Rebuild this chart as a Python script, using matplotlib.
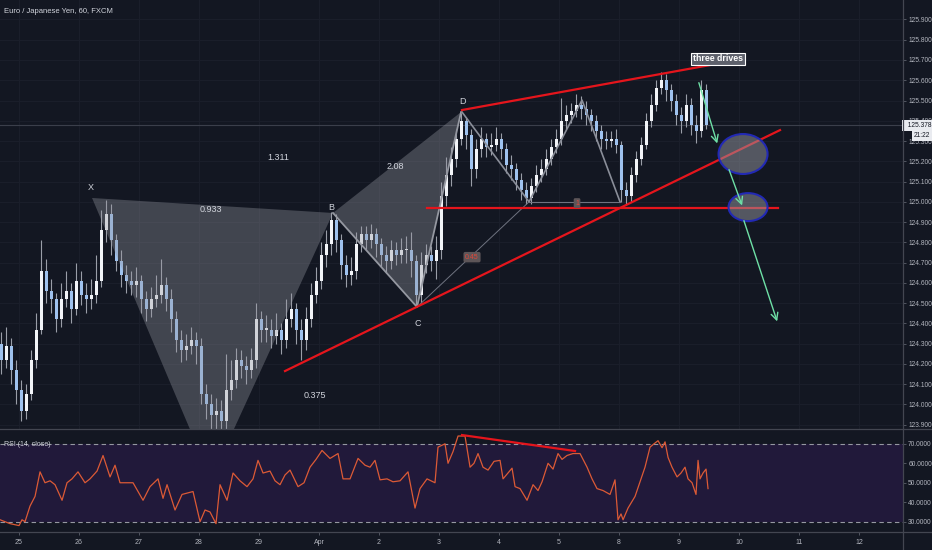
import numpy as np
import matplotlib
matplotlib.use("Agg")
import matplotlib.pyplot as plt
from matplotlib.patches import Polygon, Ellipse
from matplotlib.lines import Line2D
from matplotlib.transforms import blended_transform_factory

plt.rcParams['font.family'] = ['Liberation Sans', 'DejaVu Sans']

# ---- price data: 2-hour bars, EUR/JPY ----
first_open = 124.30
closes = [124.22, 124.29, 124.17, 124.07, 123.97, 124.05, 124.22, 124.37, 124.66, 124.56,
          124.52, 124.42, 124.52, 124.56, 124.47, 124.61, 124.54, 124.52, 124.54, 124.61,
          124.86, 124.94, 124.81, 124.71, 124.64, 124.61, 124.59, 124.61, 124.52, 124.47,
          124.52, 124.54, 124.59, 124.52, 124.42, 124.32, 124.27, 124.29, 124.32, 124.29,
          124.05, 124.00, 123.95, 123.97, 123.92, 124.07, 124.12, 124.22, 124.19, 124.17,
          124.22, 124.42, 124.37, 124.37, 124.34, 124.37, 124.32, 124.42, 124.47, 124.37,
          124.32, 124.42, 124.54, 124.61, 124.74, 124.79, 124.91, 124.81, 124.69, 124.64,
          124.66, 124.79, 124.84, 124.81, 124.84, 124.79, 124.74, 124.71, 124.76, 124.74,
          124.76, 124.76, 124.71, 124.54, 124.69, 124.74, 124.71, 124.76, 125.03, 125.13,
          125.21, 125.31, 125.40, 125.33, 125.16, 125.26, 125.31, 125.27, 125.28, 125.31,
          125.26, 125.18, 125.16, 125.11, 125.06, 125.02, 125.08, 125.13, 125.16, 125.21,
          125.27, 125.31, 125.40, 125.43, 125.45, 125.48, 125.46, 125.43, 125.40, 125.35,
          125.31, 125.30, 125.31, 125.28, 125.06, 125.03, 125.13, 125.21, 125.28, 125.40,
          125.48, 125.56, 125.60, 125.55, 125.50, 125.43, 125.40, 125.48, 125.38, 125.35,
          125.55, 125.378]
highs = [124.36, 124.38, 124.33, 124.22, 124.12, 124.10, 124.27, 124.45, 124.81, 124.72,
         124.62, 124.55, 124.60, 124.66, 124.60, 124.70, 124.66, 124.60, 124.62, 124.74,
         124.96, 125.01, 124.99, 124.84, 124.76, 124.69, 124.66, 124.68, 124.64, 124.56,
         124.58, 124.64, 124.72, 124.63, 124.57, 124.46, 124.37, 124.35, 124.38, 124.36,
         124.33, 124.10, 124.05, 124.03, 124.02, 124.25, 124.22, 124.28, 124.27, 124.24,
         124.28, 124.50, 124.46, 124.44, 124.42, 124.45, 124.40, 124.52, 124.55, 124.50,
         124.42, 124.48, 124.60, 124.68, 124.80, 124.86, 124.95, 124.94, 124.84, 124.74,
         124.73, 124.85, 124.88, 124.88, 124.89, 124.87, 124.82, 124.78, 124.81, 124.80,
         124.82, 124.83, 124.85, 124.74, 124.75, 124.79, 124.78, 124.83, 125.10, 125.22,
         125.27, 125.36, 125.44, 125.42, 125.36, 125.31, 125.37, 125.34, 125.34, 125.37,
         125.34, 125.29, 125.23, 125.19, 125.14, 125.10, 125.12, 125.18, 125.21, 125.26,
         125.31, 125.36, 125.51, 125.48, 125.49, 125.53, 125.52, 125.50, 125.46, 125.43,
         125.38, 125.35, 125.35, 125.36, 125.30, 125.10, 125.17, 125.25, 125.32, 125.44,
         125.53, 125.60, 125.64, 125.63, 125.58, 125.53, 125.47, 125.53, 125.51, 125.43,
         125.60, 125.58]
lows = [124.15, 124.18, 124.10, 124.00, 123.92, 123.93, 124.02, 124.18, 124.35, 124.50,
        124.45, 124.36, 124.38, 124.48, 124.40, 124.44, 124.49, 124.45, 124.47, 124.50,
        124.58, 124.80, 124.74, 124.66, 124.58, 124.55, 124.54, 124.53, 124.45, 124.41,
        124.43, 124.48, 124.50, 124.46, 124.36, 124.26, 124.21, 124.22, 124.25, 124.20,
        124.00, 123.93, 123.86, 123.88, 123.85, 123.86, 124.02, 124.08, 124.13, 124.10,
        124.13, 124.18, 124.31, 124.31, 124.28, 124.30, 124.25, 124.28, 124.38, 124.30,
        124.22, 124.27, 124.38, 124.50, 124.57, 124.68, 124.74, 124.75, 124.62, 124.58,
        124.59, 124.62, 124.75, 124.76, 124.77, 124.73, 124.68, 124.65, 124.67, 124.69,
        124.70, 124.70, 124.63, 124.48, 124.50, 124.65, 124.66, 124.62, 124.72, 124.98,
        125.08, 125.17, 125.28, 125.26, 125.08, 125.12, 125.22, 125.22, 125.23, 125.25,
        125.21, 125.14, 125.11, 125.06, 125.01, 124.99, 124.99, 125.05, 125.10, 125.13,
        125.18, 125.24, 125.28, 125.36, 125.39, 125.42, 125.41, 125.38, 125.35, 125.30,
        125.26, 125.26, 125.27, 125.24, 125.00, 124.99, 125.00, 125.10, 125.18, 125.26,
        125.37, 125.45, 125.53, 125.50, 125.45, 125.38, 125.34, 125.37, 125.33, 125.29,
        125.32, 125.36]
last_price = 125.378

# ---- RSI(14, close) (time in trading days, 25 Mar = 0) ----
rsi_t = [-0.317, -0.233, -0.15, 0.0, 0.05, 0.1, 0.183, 0.267, 0.35, 0.433, 0.517, 0.6, 0.717,
         0.8, 0.883, 0.983, 1.1, 1.183, 1.3, 1.4, 1.517, 1.6, 1.683, 1.9, 2.067, 2.183, 2.317,
         2.4, 2.467, 2.6, 2.717, 2.9, 3.017, 3.1, 3.183, 3.283, 3.35, 3.467, 3.567, 3.683, 3.8,
         3.9, 3.983, 4.067, 4.183, 4.267, 4.35, 4.433, 4.517, 4.65, 4.75, 4.85, 4.95, 5.05,
         5.183, 5.317, 5.4, 5.517, 5.65, 5.767, 5.85, 5.933, 6.017, 6.133, 6.233, 6.35, 6.483,
         6.6, 6.683, 6.8, 6.933, 6.983, 7.1, 7.15, 7.233, 7.317, 7.433, 7.517, 7.583, 7.65,
         7.733, 7.817, 7.917, 8.017, 8.067, 8.15, 8.217, 8.267, 8.35, 8.467, 8.567, 8.65,
         8.717, 8.817, 8.9, 8.983, 9.05, 9.133, 9.233, 9.35, 9.467, 9.55, 9.633, 9.733, 9.85,
         9.933, 9.983, 10.033, 10.067, 10.15, 10.267, 10.35, 10.433, 10.517, 10.583, 10.65,
         10.717, 10.767, 10.817, 10.883, 10.967, 11.033, 11.1, 11.15, 11.217, 11.283, 11.317,
         11.35, 11.4, 11.45, 11.483]
rsi_v = [31, 30, 29, 28, 31, 30, 38, 43, 55.6, 50, 51, 49, 41,
         50, 52, 55.6, 50, 52, 56, 64, 53, 59, 50, 50, 41, 48, 52,
         42, 49, 36, 44, 45.5, 30, 36, 35, 29, 49, 41, 55, 51, 48,
         52, 61.5, 55, 56, 51, 49, 54, 56.5, 48, 50, 58, 62, 66.6,
         62.5, 65, 52, 52, 62.5, 59, 58, 61.5, 51.5, 52, 50.5, 51, 55.6,
         37, 47, 52, 50, 68.3, 70, 60, 66, 74, 74, 58, 60, 65,
         58, 56.5, 61, 61.5, 52, 55, 57.5, 48, 47, 41, 49, 46,
         50.5, 60, 57, 65, 62, 64, 65, 65, 58, 52, 47, 46, 44,
         51.5, 31, 34, 31, 37, 43, 50.5, 58, 68.3, 70, 71.6,
         68, 71, 63, 58, 53, 55, 58, 52, 50, 44, 61.5,
         52, 55, 57, 47]

# ---- axis labels ----
day_labels = ['25', '26', '27', '28', '29', 'Apr', '2', '3', '4', '5', '8', '9', '10', '11', '12']
price_ticks = [123.9, 124.0, 124.1, 124.2, 124.3, 124.4, 124.5, 124.6, 124.7, 124.8,
               124.9, 125.0, 125.1, 125.2, 125.3, 125.4, 125.5, 125.6, 125.7, 125.8, 125.9]
rsi_ticks = [30, 40, 50, 60, 70]

# ---- drawings (time in days, price) ----
pt_X = (1.217, 125.019)
pt_A = (3.2, 123.632)
pt_B = (5.233, 124.945)
pt_C = (6.633, 124.481)
pt_D = (7.367, 125.443)
ratio_labels = [('0.933', 3.2, 124.964), ('1.311', 4.317, 125.221),
                ('2.08', 6.267, 125.172), ('0.375', 4.933, 124.046)]
point_labels = [('X', 1.2, 125.073), ('B', 5.2, 124.974), ('C', 6.65, 124.402), ('D', 7.383, 125.493)]
zigzag_t = [7.383, 8.5, 9.383, 10.017]
zigzag_p = [125.443, 125.00, 125.502, 125.00]
upper_trend = ([7.383, 11.517], [125.453, 125.675])
lower_trend = ([4.433, 12.683], [124.165, 125.354])
support = ([6.8, 12.65], [124.969, 124.969])
rsi_div = ([7.383, 9.267], [74.5, 66.3])
ellipses = [(12.067, 125.236, 0.817, 0.197), (12.15, 124.974, 0.65, 0.138)]
arrows = [((11.317, 125.601), (11.65, 125.275)),
          ((11.817, 125.172), (12.067, 124.969)),
          ((12.067, 124.920), (12.65, 124.397))]

BG = '#131722'
TXT = '#b2b5be'
GRID = '#1b1f2b'
RED = '#e5151c'
SEP = '#434651'
FS = 4.8

fig = plt.figure(figsize=(9.32, 5.5), dpi=100, facecolor=BG)
ax = fig.add_axes([0, 0.22, 0.9689, 0.78], facecolor=BG)
ax2 = fig.add_axes([0, 0.0327, 0.9689, 0.1855], facecolor=BG, sharex=ax)

xmin, xmax = -0.317, 14.733
n = len(closes)
t = -0.30 + np.arange(n) / 12.0
opens = np.array([first_open] + closes[:-1])
c = np.array(closes)
h = np.array(highs)
l = np.array(lows)
up = c >= opens

# grid
for d in range(15):
    ax.axvline(d, color=GRID, lw=0.7, zorder=0)
for p in price_ticks:
    ax.axhline(p, color=GRID, lw=0.7, zorder=0)

# candles
ax.vlines(t, l, h, color='#9a9ea8', lw=0.8, zorder=2)
body_lo = np.minimum(opens, c)
body_h = np.maximum(np.abs(c - opens), 0.006)
ax.bar(t[up], body_h[up], bottom=body_lo[up], width=0.05, color='#f2f4f8', lw=0, zorder=3)
ax.bar(t[~up], body_h[~up], bottom=body_lo[~up], width=0.05, color='#9fc2ee', lw=0, zorder=3)

# last price line
ax.axhline(last_price, color='#3b3f4b', lw=0.8, zorder=1)

# XABCD pattern
fill_col = (149 / 255, 152 / 255, 161 / 255, 0.36)
ax.add_patch(Polygon([pt_X, pt_A, pt_B], closed=True, facecolor=fill_col, edgecolor='none', zorder=4))
ax.add_patch(Polygon([pt_B, pt_C, pt_D], closed=True, facecolor=fill_col, edgecolor='none', zorder=4))
ax.plot([pt_B[0], pt_C[0], pt_D[0]], [pt_B[1], pt_C[1], pt_D[1]], color='#9598a1', lw=1.3, zorder=5)
for s, x, y in ratio_labels + point_labels:
    ax.text(x, y, s, color='#d1d4dc', fontsize=6.5, ha='center', va='center', zorder=6)

# ABCD / zigzag
ax.plot([pt_C[0], zigzag_t[1]], [pt_C[1], zigzag_p[1]], color='#6f7380', lw=0.7, zorder=5)
ax.plot(zigzag_t, zigzag_p, color='#8a8e99', lw=1.2, zorder=5)
ax.plot([zigzag_t[1], zigzag_t[3]], [zigzag_p[1], zigzag_p[3]], color='#6f7380', lw=0.8, zorder=5)
ax.text(7.55, 124.727, '0.45', color='#e0463a', fontsize=5, ha='center', va='center', zorder=7,
        bbox=dict(boxstyle='round,pad=0.25', fc='#5d5558', ec='none'))
ax.text(9.3, 124.994, '1', color='#e0463a', fontsize=5, ha='center', va='center', zorder=7,
        bbox=dict(boxstyle='round,pad=0.2', fc='#5d5558', ec='none'))

# trend lines
ax.plot(*upper_trend, color=RED, lw=1.6, zorder=6)
ax.plot(*lower_trend, color=RED, lw=1.6, zorder=6)
ax.plot(*support, color=RED, lw=1.6, zorder=6)

# target zones
for cx, cy, w, hh in ellipses:
    ax.add_patch(Ellipse((cx, cy), w, hh, facecolor=(149 / 255, 152 / 255, 161 / 255, 0.5),
                         edgecolor='#2229b4', lw=1.5, zorder=7))
for (x0, y0), (x1, y1) in arrows:
    ax.annotate('', xy=(x1, y1), xytext=(x0, y0), zorder=8,
                arrowprops=dict(arrowstyle='->,head_length=0.5,head_width=0.25', color='#6ee0a6', lw=1.0))

ax.text(11.65, 125.705, 'three drives', color='white', fontsize=6.3, fontweight='bold',
        ha='center', va='center', zorder=9,
        bbox=dict(boxstyle='square,pad=0.2', fc='#5d606b', ec='white', lw=0.8))

ax.text(0.004, 0.974, 'Euro / Japanese Yen, 60, FXCM', transform=ax.transAxes, color='#d1d4dc',
        fontsize=5.5, ha='left', va='center')

# main axis setup
ax.set_xlim(xmin, xmax)
ax.set_ylim(123.879, 125.996)
ax.yaxis.tick_right()
ax.set_yticks(price_ticks)
ax.set_yticklabels(['%.3f' % p for p in price_ticks])
ax.tick_params(axis='y', colors='#5d606b', labelsize=FS, length=2.5, width=0.6, pad=1.2, labelcolor=TXT)
ax.tick_params(axis='x', bottom=False, labelbottom=False)
for sp in ('top', 'left', 'right', 'bottom'):
    ax.spines[sp].set_visible(False)

# price tags on the scale
tr = blended_transform_factory(ax.transAxes, ax.transData)
ax.text(1.001, last_price, '  125.378 ', transform=tr, color='#131722', fontsize=FS, ha='left',
        va='center', zorder=10, clip_on=False,
        bbox=dict(boxstyle='square,pad=0.3', fc='#e9ebf0', ec='none'))
ax.text(1.012, last_price - 0.05, '21:22', transform=tr, color='#131722', fontsize=FS, ha='left',
        va='center', zorder=10, clip_on=False,
        bbox=dict(boxstyle='square,pad=0.25', fc='#e9ebf0', ec='none'))

# RSI pane
ax2.axhspan(30, 70, color='#21193a', lw=0, zorder=0)
ax2.axhline(70, color='#9598a1', lw=0.8, ls=(0, (4, 3)), zorder=1)
ax2.axhline(30, color='#9598a1', lw=0.8, ls=(0, (4, 3)), zorder=1)
ax2.plot(rsi_t, rsi_v, color='#dc5a36', lw=0.9, zorder=3)
ax2.plot(*rsi_div, color=RED, lw=1.6, zorder=4)
ax2.text(0.004, 0.86, 'RSI (14, close)', transform=ax2.transAxes, color='#d1d4dc', fontsize=5,
         ha='left', va='center')
ax2.set_ylim(24.7, 77.1)
ax2.yaxis.tick_right()
ax2.set_yticks(rsi_ticks)
ax2.set_yticklabels(['%.4f' % v for v in rsi_ticks])
ax2.set_xticks(range(15))
ax2.set_xticklabels(day_labels)
ax2.tick_params(axis='both', colors='#5d606b', labelsize=FS, length=2.5, width=0.6, pad=1.2, labelcolor=TXT)
ax2.tick_params(axis='x', labelsize=5, pad=2.5)
for sp in ('top', 'left', 'right', 'bottom'):
    ax2.spines[sp].set_visible(False)
ax2.set_xlim(xmin, xmax)

# pane separators spanning the whole window, like the platform frame
fig.add_artist(Line2D([0.9689, 0.9689], [0, 1], transform=fig.transFigure, color=SEP, lw=0.9))
fig.add_artist(Line2D([0, 1], [0.2191, 0.2191], transform=fig.transFigure, color=SEP, lw=0.9))
fig.add_artist(Line2D([0, 1], [0.0327, 0.0327], transform=fig.transFigure, color=SEP, lw=0.9))

fig.savefig('out.png', dpi=100, facecolor=BG)
